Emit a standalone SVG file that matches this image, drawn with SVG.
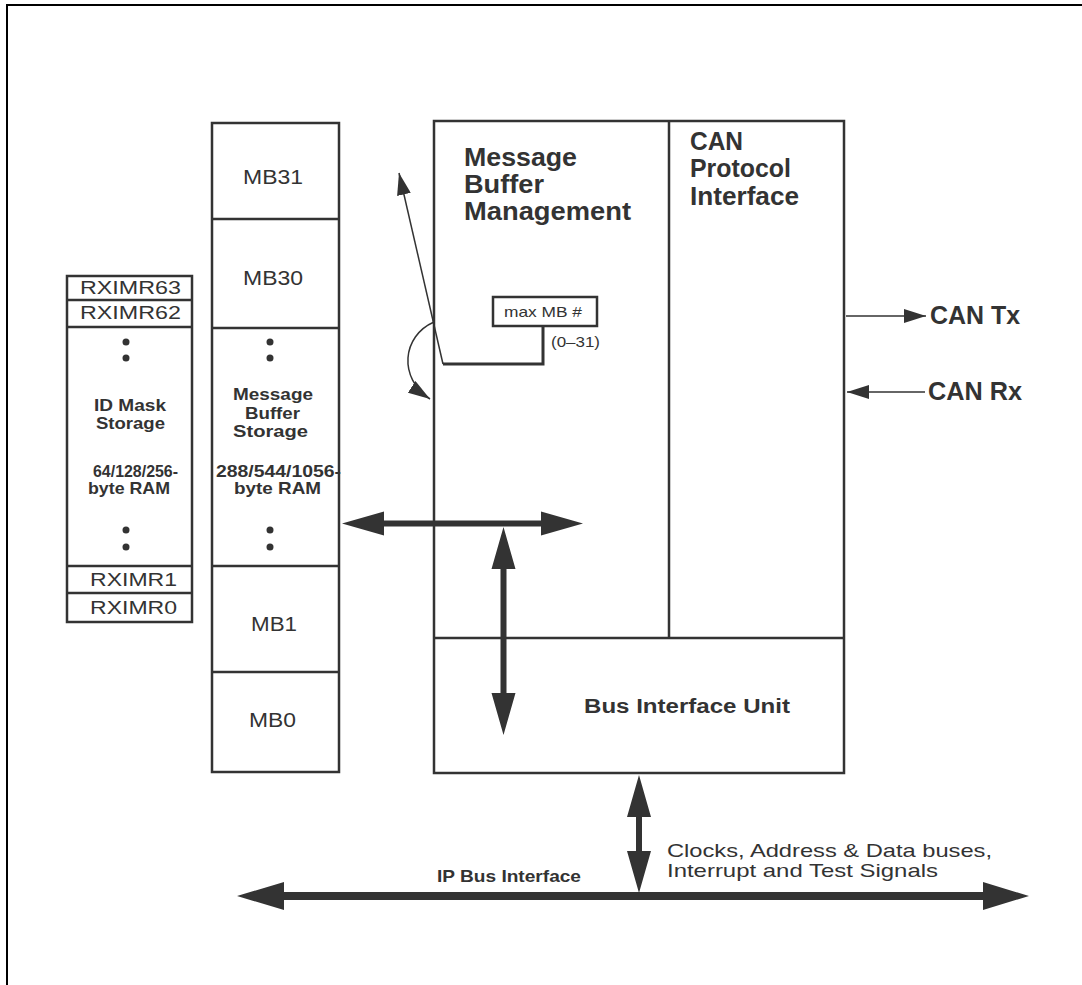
<svg xmlns="http://www.w3.org/2000/svg" width="1082" height="985" viewBox="0 0 1082 985">
<defs>
<style>
.box{fill:#fff;stroke:#333;stroke-width:2.5}
.ln{fill:none;stroke:#333;stroke-width:2.5}
.thin{fill:none;stroke:#333;stroke-width:1.5}
.fill{fill:#333;stroke:none}
text{font-family:"Liberation Sans",Arial,sans-serif;fill:#333}
.r17{font-size:18px}
.r19{font-size:20px}
.r14{font-size:14.5px}
.r18{font-size:19px}
.b15{font-size:16.5px;font-weight:bold}
.b25{font-size:25.5px;font-weight:bold}
.b19{font-size:20px;font-weight:bold}
</style>
<marker id="ah" viewBox="0 0 22 14" refX="22" refY="7" markerWidth="22" markerHeight="14" markerUnits="userSpaceOnUse" orient="auto">
<path d="M0,0 L22,7 L0,14 z" fill="#333"/>
</marker>
</defs>

<path d="M7,985 L7,5 L1082,5" fill="none" stroke="#000" stroke-width="2"/>

<g id="id-mask-storage">
<rect class="box" x="67" y="276" width="125" height="346"/>
<line class="ln" x1="67" y1="300" x2="192" y2="300"/>
<line class="ln" x1="67" y1="327" x2="192" y2="327"/>
<line class="ln" x1="67" y1="566" x2="192" y2="566"/>
<line class="ln" x1="67" y1="593" x2="192" y2="593"/>
<text class="r17" x="80" y="294" textLength="101" lengthAdjust="spacingAndGlyphs">RXIMR63</text>
<text class="r17" x="80" y="319" textLength="101" lengthAdjust="spacingAndGlyphs">RXIMR62</text>
<text class="r17" x="90" y="586" textLength="87" lengthAdjust="spacingAndGlyphs">RXIMR1</text>
<text class="r17" x="90" y="614" textLength="87" lengthAdjust="spacingAndGlyphs">RXIMR0</text>
<circle class="fill" cx="126" cy="342" r="3.5"/>
<circle class="fill" cx="126" cy="358" r="3.5"/>
<circle class="fill" cx="126" cy="530" r="3.5"/>
<circle class="fill" cx="126" cy="547" r="3.5"/>
<text class="b15" x="94" y="411" textLength="72" lengthAdjust="spacingAndGlyphs">ID Mask</text>
<text class="b15" x="96" y="429" textLength="69" lengthAdjust="spacingAndGlyphs">Storage</text>
<text class="b15" x="93" y="477" textLength="85" lengthAdjust="spacingAndGlyphs">64/128/256-</text>
<text class="b15" x="88" y="494" textLength="82" lengthAdjust="spacingAndGlyphs">byte RAM</text>
</g>

<g id="message-buffer-storage">
<rect class="box" x="212" y="123" width="127" height="649"/>
<line class="ln" x1="212" y1="219" x2="339" y2="219"/>
<line class="ln" x1="212" y1="328" x2="339" y2="328"/>
<line class="ln" x1="212" y1="566" x2="339" y2="566"/>
<line class="ln" x1="212" y1="672" x2="339" y2="672"/>
<text class="r19" x="243" y="184" textLength="60" lengthAdjust="spacingAndGlyphs">MB31</text>
<text class="r19" x="243" y="285" textLength="60" lengthAdjust="spacingAndGlyphs">MB30</text>
<text class="r19" x="251" y="631" textLength="46" lengthAdjust="spacingAndGlyphs">MB1</text>
<text class="r19" x="249" y="727" textLength="47" lengthAdjust="spacingAndGlyphs">MB0</text>
<circle class="fill" cx="270" cy="342" r="3.5"/>
<circle class="fill" cx="270" cy="358" r="3.5"/>
<circle class="fill" cx="270" cy="530" r="3.5"/>
<circle class="fill" cx="270" cy="547" r="3.5"/>
<text class="b15" x="233" y="400" textLength="80" lengthAdjust="spacingAndGlyphs">Message</text>
<text class="b15" x="245" y="418.5" textLength="55" lengthAdjust="spacingAndGlyphs">Buffer</text>
<text class="b15" x="233" y="437" textLength="75" lengthAdjust="spacingAndGlyphs">Storage</text>
<text class="b15" x="216" y="477" textLength="125" lengthAdjust="spacingAndGlyphs">288/544/1056-</text>
<text class="b15" x="234" y="494" textLength="87" lengthAdjust="spacingAndGlyphs">byte RAM</text>
</g>

<g id="flexcan-block">
<rect class="box" x="434" y="121" width="410" height="652"/>
<line class="ln" x1="669" y1="121" x2="669" y2="638"/>
<line class="ln" x1="434" y1="638" x2="844" y2="638"/>
</g>

<g id="message-buffer-management">
<text class="b25" x="464" y="166" textLength="113" lengthAdjust="spacingAndGlyphs">Message</text>
<text class="b25" x="464" y="193" textLength="80" lengthAdjust="spacingAndGlyphs">Buffer</text>
<text class="b25" x="464" y="220" textLength="167" lengthAdjust="spacingAndGlyphs">Management</text>
</g>

<g id="can-protocol-interface">
<text class="b25" x="690" y="150" textLength="53" lengthAdjust="spacingAndGlyphs">CAN</text>
<text class="b25" x="690" y="177" textLength="101" lengthAdjust="spacingAndGlyphs">Protocol</text>
<text class="b25" x="690" y="205" textLength="109" lengthAdjust="spacingAndGlyphs">Interface</text>
</g>

<g id="bus-interface-unit">
<text class="b19" x="584" y="713" textLength="206" lengthAdjust="spacingAndGlyphs">Bus Interface Unit</text>
</g>

<g id="max-mb">
<rect class="box" x="493" y="297" width="104" height="29"/>
<text class="r14" x="504" y="317" textLength="78" lengthAdjust="spacingAndGlyphs">max MB #</text>
<text class="r14" x="551" y="347" textLength="49" lengthAdjust="spacingAndGlyphs">(0–31)</text>
</g>

<g id="can-tx">
<text class="b25" x="930" y="324" textLength="90" lengthAdjust="spacingAndGlyphs">CAN Tx</text>
</g>
<g id="can-rx">
<text class="b25" x="928" y="400" textLength="94" lengthAdjust="spacingAndGlyphs">CAN Rx</text>
</g>

<g id="ip-bus">
<text class="b15" x="437" y="882" textLength="144" lengthAdjust="spacingAndGlyphs">IP Bus Interface</text>
<text class="r18" x="667" y="857" textLength="325" lengthAdjust="spacingAndGlyphs">Clocks, Address &amp; Data buses,</text>
<text class="r18" x="667" y="877" textLength="271" lengthAdjust="spacingAndGlyphs">Interrupt and Test Signals</text>
</g>

<g id="connectors">
<polyline points="543,326 543,364 443,364" fill="none" stroke="#333" stroke-width="3"/>
<line class="thin" x1="443" y1="364" x2="399" y2="173" marker-end="url(#ah)"/>
<path class="thin" d="M434,322 C402,336 398,378 430,399" marker-end="url(#ah)"/>
<line class="thin" x1="846" y1="316" x2="926" y2="316" marker-end="url(#ah)"/>
<line class="thin" x1="925" y1="392" x2="847" y2="392" marker-end="url(#ah)"/>
<polygon class="fill" points="342,523.5 384,511.5 384,520.5 541,520.5 541,511.5 583,523.5 541,535.5 541,526.5 384,526.5 384,535.5"/>
<polygon class="fill" points="503.5,527 515.5,569 506.5,569 506.5,693 515.5,693 503.5,735 491.5,693 500.5,693 500.5,569 491.5,569"/>
<polygon class="fill" points="639,775 651,817 642,817 642,851 651,851 639,893 627,851 636,851 636,817 627,817"/>
<polygon class="fill" points="237,896 284,882 284,892 983,892 983,882 1029,896 983,910 983,900 284,900 284,910"/>
</g>
</svg>
